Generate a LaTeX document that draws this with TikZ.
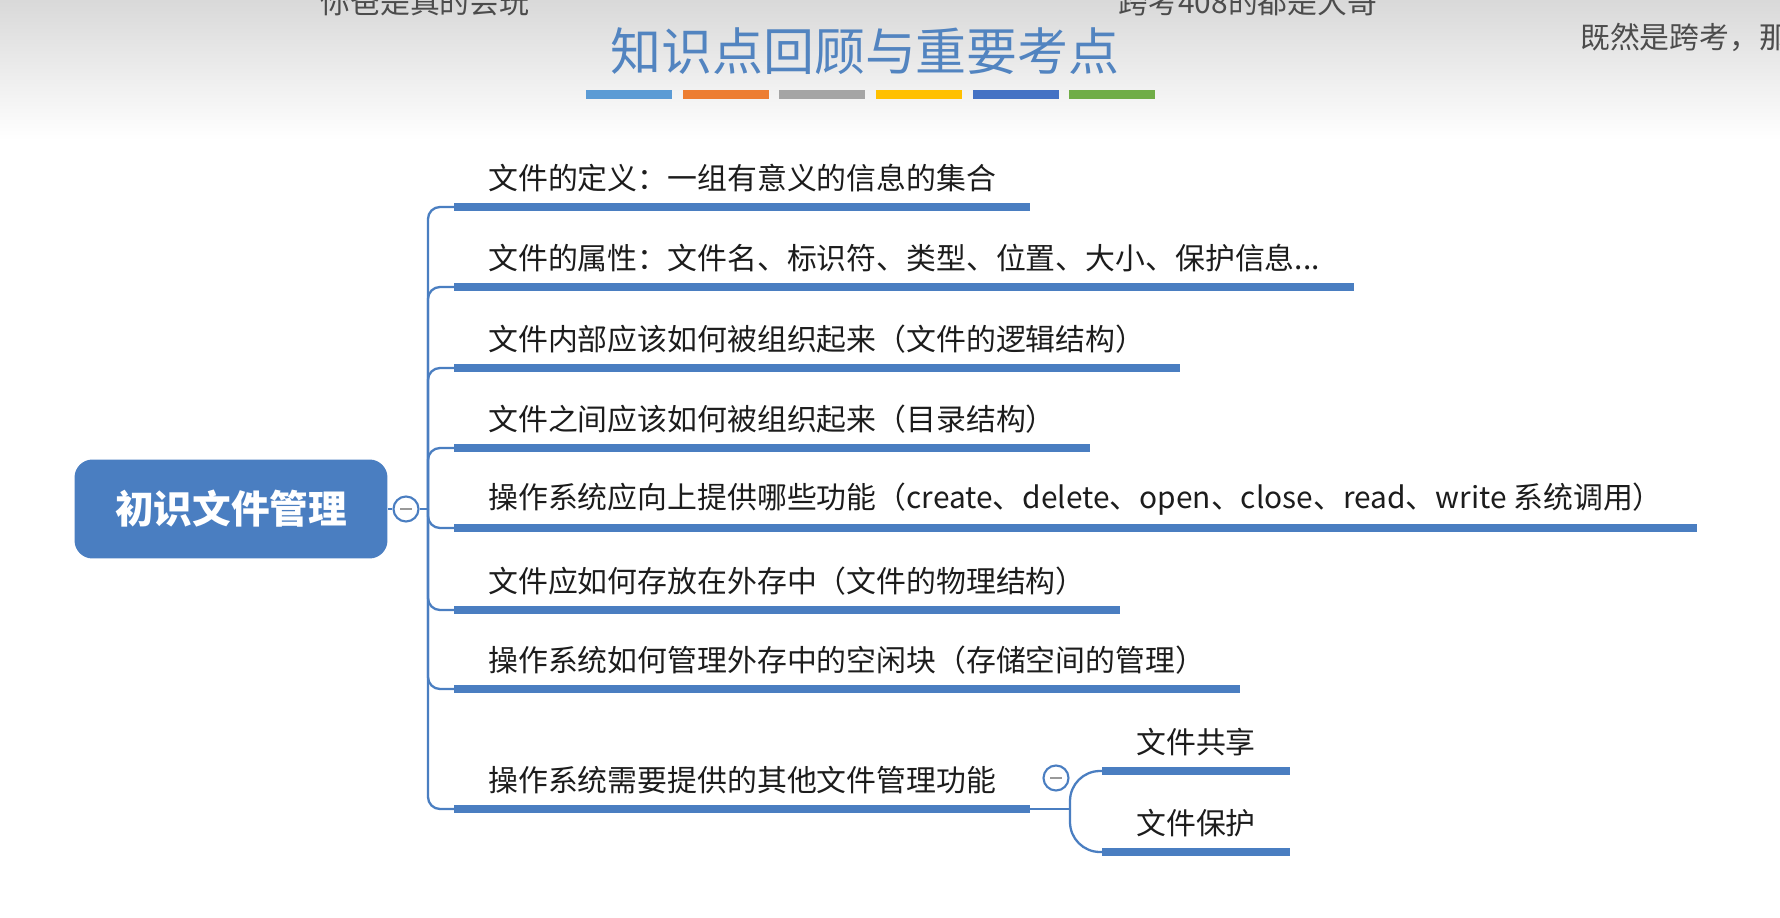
\documentclass[tikz,border=0pt]{standalone}
\usepackage{fontspec}
\setmainfont{Noto Sans CJK SC}
\usetikzlibrary{positioning, calc}
\definecolor{mapblue}{RGB}{74,126,193}
\definecolor{titleblue}{RGB}{82,132,192}
\definecolor{inkgray}{RGB}{28,28,28}
\definecolor{cbblue}{RGB}{91,155,213}
\definecolor{cborange}{RGB}{237,125,49}
\definecolor{cbgray}{RGB}{165,165,165}
\definecolor{cbgold}{RGB}{255,192,0}
\definecolor{cbnavy}{RGB}{68,114,196}
\definecolor{cbgreen}{RGB}{112,173,71}
\tikzset{
  topic/.style={
    rectangle, rounded corners=0.36cm, fill=mapblue,
    minimum width=6.26cm, minimum height=1.98cm,
    align=center, text=white, font=\fontsize{22}{26}\selectfont\bfseries
  },
  fold/.style={
    circle, draw=mapblue, line width=1.2pt, fill=white,
    minimum size=0.5cm, inner sep=0pt,
    path picture={\draw[gray!80, line width=1.4pt]
      ($(path picture bounding box.center)+(-0.12cm,0)$) -- ++(0.24cm,0);}
  },
  branch/.style={
    rectangle, anchor=south west, inner xsep=0.68cm, inner ysep=0pt,
    minimum height=1.16cm, text=inkgray, font=\fontsize{17}{20}\selectfont
  },
  bar/.style={draw=mapblue, line width=4pt},
  link/.style={draw=mapblue, line width=1.3pt, rounded corners=0.24cm},
  colorbar/.style={
    rectangle, fill=#1, minimum width=1.72cm, minimum height=0.18cm,
    inner sep=0pt
  },
  danmu/.style={text=black!70, font=\fontsize{17}{20}\selectfont}
}
\begin{document}
\begin{tikzpicture}[x=0.02cm, y=-0.02cm]
\useasboundingbox (0,0) rectangle (1780,918);

% Background
\fill[white] (0,0) rectangle (1780,918);
\shade[top color=gray!30, bottom color=white] (0,0) rectangle (1780,140);

% Comments on top of the video
\node[danmu] (d1) at (425,2) {你爸是真的会玩};
\node[danmu] (d2) at (1248,2) {跨考408的都是大哥};
\node[danmu, anchor=west] (d3) at (1574,37) {既然是跨考，那};

% Title and colour bars
\node[text=titleblue, font=\fontsize{29}{34}\selectfont] (title) at (865,51) {知识点回顾与重要考点};
\node[colorbar=cbblue] (cb1) at (629,95) {};
\node[colorbar=cborange, right=0.2cm of cb1] (cb2) {};
\node[colorbar=cbgray, right=0.2cm of cb2] (cb3) {};
\node[colorbar=cbgold, right=0.2cm of cb3] (cb4) {};
\node[colorbar=cbnavy, right=0.2cm of cb4] (cb5) {};
\node[colorbar=cbgreen, right=0.2cm of cb5] (cb6) {};

% Central topic
\node[topic] (root) at (231,509) {初识文件管理};
\node[fold] (fold) at (406,509) {};
\coordinate (fork) at (428,509);

% Branches
\node[branch] (b1) at (454,207) {文件的定义：一组有意义的信息的集合};
\node[branch] (b2) at (454,287) {文件的属性：文件名、标识符、类型、位置、大小、保护信息...};
\node[branch] (b3) at (454,368) {文件内部应该如何被组织起来（文件的逻辑结构）};
\node[branch] (b4) at (454,448) {文件之间应该如何被组织起来（目录结构）};
\node[branch] (b5) at (454,528) {操作系统应向上提供哪些功能（create、delete、open、close、read、write 系统调用）};
\node[branch] (b6) at (454,610) {文件应如何存放在外存中（文件的物理结构）};
\node[branch] (b7) at (454,689) {操作系统如何管理外存中的空闲块（存储空间的管理）};
\node[branch] (b8) at (454,809) {操作系统需要提供的其他文件管理功能};

% Sub-branches
\node[fold] (subfold) at (1056,778) {};
\coordinate (subfork) at (1070,809);
\node[branch] (s1) at (1102,771) {文件共享};
\node[branch] (s2) at (1102,852) {文件保护};

% Bars under the texts
\draw[bar] (b1.south west) -- (b1.south east);
\draw[bar] (b2.south west) -- (b2.south east);
\draw[bar] (b3.south west) -- (b3.south east);
\draw[bar] (b4.south west) -- (b4.south east);
\draw[bar] (b5.south west) -- (b5.south east);
\draw[bar] (b6.south west) -- (b6.south east);
\draw[bar] (b7.south west) -- (b7.south east);
\draw[bar] (b8.south west) -- (b8.south east);
\draw[bar] (s1.south west) -- (s1.south east);
\draw[bar] (s2.south west) -- (s2.south east);

% Connectors
\draw[link] (root) -- (fold);
\draw[link] (fold) -- (fork);
\draw[link] (fork) |- (b1.south west);
\draw[link] (fork) |- (b2.south west);
\draw[link] (fork) |- (b3.south west);
\draw[link] (fork) |- (b4.south west);
\draw[link] (fork) |- (b5.south west);
\draw[link] (fork) |- (b6.south west);
\draw[link] (fork) |- (b7.south west);
\draw[link] (fork) |- (b8.south west);
\draw[link] (b8.south east) -- (subfork);
\draw[link, rounded corners=0.6cm] (subfork) |- (s1.south west);
\draw[link, rounded corners=0.6cm] (subfork) |- (s2.south west);

\end{tikzpicture}
\end{document}
